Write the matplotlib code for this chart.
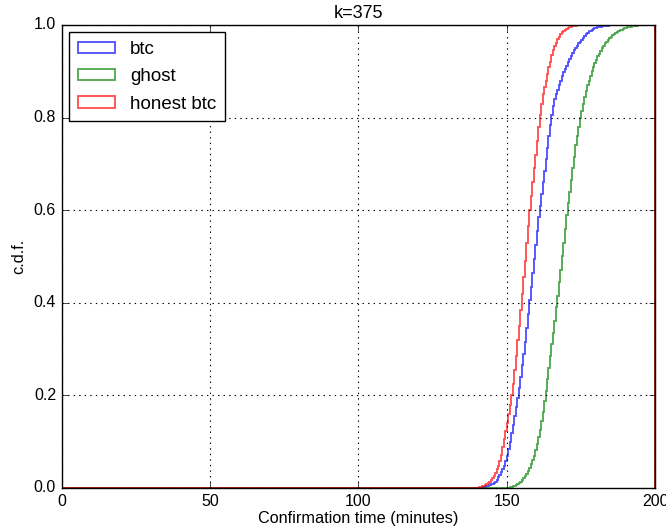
import numpy as np
import matplotlib
matplotlib.use("Agg")
import matplotlib.pyplot as plt
from matplotlib.patches import Patch

plt.style.use("classic")
plt.rcParams["font.family"] = ["Liberation Sans", "DejaVu Sans"]

# bin edges: half-minute bins from 0 to 200
bin_width = 0.5
edges = np.arange(0, 200 + bin_width / 2, bin_width)

# CDF values (fraction) for consecutive half-minute bins starting at the listed minute;
# earlier bins are 0, later bins are 1
btc_start = 141.0
btc_cdf = [0.001, 0.001, 0.002, 0.003, 0.004, 0.005, 0.006, 0.008, 0.009, 0.011,
           0.014, 0.018, 0.023, 0.029, 0.035, 0.041, 0.048, 0.058, 0.070, 0.085,
           0.100, 0.118, 0.136, 0.155, 0.175, 0.195, 0.215, 0.240, 0.265, 0.290,
           0.315, 0.345, 0.375, 0.405, 0.435, 0.465, 0.495, 0.525, 0.555, 0.585,
           0.610, 0.635, 0.660, 0.685, 0.710, 0.735, 0.760, 0.785, 0.805, 0.825,
           0.840, 0.850, 0.860, 0.870, 0.880, 0.890, 0.898, 0.905, 0.912, 0.920,
           0.927, 0.934, 0.940, 0.945, 0.950, 0.955, 0.960, 0.964, 0.968, 0.972,
           0.976, 0.980, 0.983, 0.986, 0.988, 0.990, 0.991, 0.993, 0.994, 0.995,
           0.996, 0.996, 0.997, 0.997, 0.998, 0.998, 0.998, 0.999, 0.999, 0.999,
           0.999, 0.999]

ghost_start = 150.0
ghost_cdf = [0.001, 0.001, 0.002, 0.003, 0.004, 0.005, 0.007, 0.009, 0.011, 0.014,
             0.017, 0.021, 0.025, 0.030, 0.036, 0.043, 0.051, 0.060, 0.070, 0.082,
             0.095, 0.110, 0.125, 0.145, 0.165, 0.188, 0.210, 0.235, 0.260, 0.285,
             0.310, 0.335, 0.360, 0.390, 0.415, 0.445, 0.470, 0.500, 0.530, 0.560,
             0.590, 0.615, 0.640, 0.665, 0.690, 0.715, 0.740, 0.760, 0.780, 0.800,
             0.815, 0.830, 0.845, 0.858, 0.870, 0.880, 0.890, 0.900, 0.910, 0.918,
             0.925, 0.932, 0.938, 0.944, 0.950, 0.955, 0.960, 0.964, 0.968, 0.972,
             0.975, 0.978, 0.980, 0.983, 0.985, 0.987, 0.989, 0.990, 0.992, 0.993,
             0.994, 0.995, 0.996, 0.996, 0.997, 0.997, 0.998, 0.998, 0.999, 0.999,
             0.999, 0.999]

honest_start = 140.0
honest_cdf = [0.001, 0.002, 0.003, 0.004, 0.005, 0.006, 0.008, 0.010, 0.013, 0.017,
              0.021, 0.026, 0.033, 0.040, 0.048, 0.058, 0.072, 0.088, 0.105, 0.122,
              0.140, 0.160, 0.180, 0.200, 0.225, 0.255, 0.285, 0.320, 0.350, 0.385,
              0.420, 0.455, 0.490, 0.530, 0.565, 0.600, 0.630, 0.660, 0.690, 0.720,
              0.750, 0.780, 0.805, 0.830, 0.850, 0.865, 0.880, 0.895, 0.910, 0.920,
              0.935, 0.945, 0.955, 0.962, 0.969, 0.975, 0.980, 0.984, 0.987, 0.990,
              0.992, 0.994, 0.995, 0.996, 0.997, 0.998, 0.998, 0.999, 0.999, 0.999]

labels = ["btc", "ghost", "honest btc"]
colors = ["b", "g", "r"]


def full_cdf(start, vals):
    n = len(edges) - 1
    out = np.ones(n)
    i0 = int(round(start / bin_width))
    out[:i0] = 0.0
    out[i0:i0 + len(vals)] = vals
    return out


series = [full_cdf(btc_start, btc_cdf),
          full_cdf(ghost_start, ghost_cdf),
          full_cdf(honest_start, honest_cdf)]

fig = plt.figure(figsize=(6.66, 5.31), dpi=100, facecolor="white")
ax = fig.add_axes([0.0925, 0.081, 0.8915, 0.872])
ax.set_facecolor("white")

for vals, col in zip(series, colors):
    ax.stairs(vals, edges, baseline=0, fill=False, edgecolor=col, alpha=0.7,
              linewidth=1.3)

ax.set_xlim(0, 200)
ax.set_ylim(0, 1.0)
ax.set_xticks([0, 50, 100, 150, 200])
ax.set_yticks([0.0, 0.2, 0.4, 0.6, 0.8, 1.0])
ax.set_yticklabels(["0.0", "0.2", "0.4", "0.6", "0.8", "1.0"])
ax.grid(True, color="black", linestyle=":", linewidth=0.8)
ax.tick_params(labelsize=11.5)
ax.set_xlabel("Confirmation time (minutes)", fontsize=11.7, labelpad=2)
ax.set_ylabel("c.d.f.", fontsize=11.7)
ax.set_title("k=375", fontsize=13, pad=5)

handles = [Patch(facecolor="none", edgecolor=c, alpha=0.7, linewidth=1.3, label=l)
           for c, l in zip(colors, labels)]
ax.legend(handles=handles, loc="upper left", fontsize=13.5, fancybox=False,
          framealpha=1.0, borderpad=0.45, handlelength=2.0, handleheight=0.55,
          labelspacing=0.55, handletextpad=0.8, borderaxespad=0.4)

fig.savefig("out.png", dpi=100, facecolor="white")
